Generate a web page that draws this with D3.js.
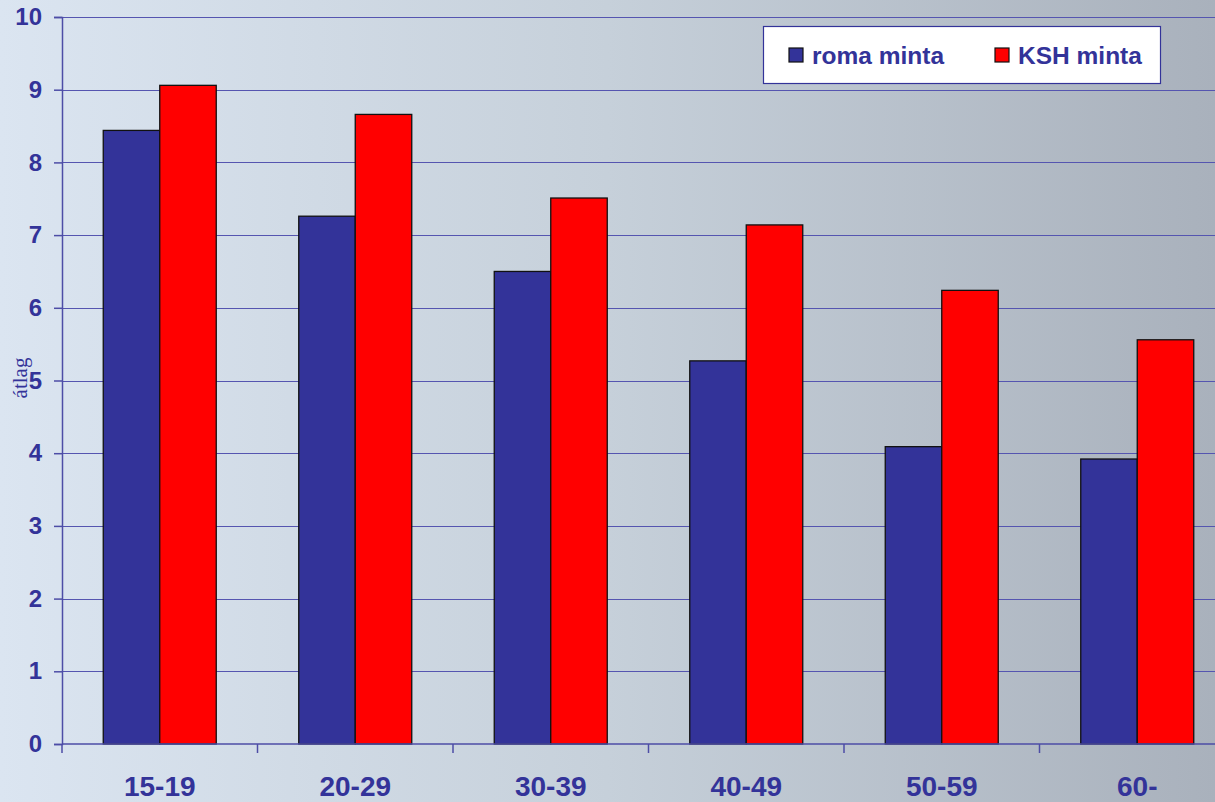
<!DOCTYPE html>
<html><head><meta charset="utf-8">
<script src="https://cdn.jsdelivr.net/npm/d3@7"></script>
<style>html,body{margin:0;padding:0;overflow:hidden;}svg{display:block;}</style>
</head><body>
<script>
const categories = ["15-19", "20-29", "30-39", "40-49", "50-59", "60-"];
const seriesNames = ["roma minta", "KSH minta"];
const romaValues = [8.44, 7.26, 6.50, 5.27, 4.09, 3.92];
const kshValues = [9.06, 8.66, 7.51, 7.14, 6.24, 5.56];
const yTicks = [0, 1, 2, 3, 4, 5, 6, 7, 8, 9, 10];
const colors = ["#333399", "#ff0000"];

const W = 1215, H = 802;
const svg = d3.select("body").append("svg").attr("width", W).attr("height", H);
const defs = svg.append("defs");
const grad = defs.append("linearGradient").attr("id", "bg").attr("x1", "0%").attr("x2", "100%").attr("y1", "0%").attr("y2", "0%");
grad.append("stop").attr("offset", "0%").attr("stop-color", "#dbe5f1");
grad.append("stop").attr("offset", "50%").attr("stop-color", "#c6d0da");
grad.append("stop").attr("offset", "100%").attr("stop-color", "#a9b1bc");
svg.append("rect").attr("width", W).attr("height", H).attr("fill", "url(#bg)");

const x0 = 62, y0 = 744, yTop = 17;
const step = 195.5;
const x = d3.scaleBand().domain(categories).range([x0, x0 + step * categories.length]).paddingInner(0).paddingOuter(0);
const y = d3.scaleLinear().domain([0, 10]).range([y0, yTop]);
const barW = 56.5;
const xs = d3.scaleBand().domain(seriesNames).range([x.bandwidth() / 2 - barW, x.bandwidth() / 2 + barW]);

const axisColor = "#4d4da6";
// gridlines
svg.append("g").selectAll("line").data(yTicks.filter(d => d > 0)).join("line")
  .attr("x1", x0).attr("x2", W).attr("y1", d => Math.round(y(d)) + 0.5).attr("y2", d => Math.round(y(d)) + 0.5)
  .attr("stroke", "#5555b0").attr("stroke-width", 1);

// bars
const data = categories.map((c, i) => ({cat: c, vals: [romaValues[i], kshValues[i]]}));
const g = svg.append("g").selectAll("g").data(data).join("g")
  .attr("transform", d => `translate(${x(d.cat)},0)`);
g.selectAll("rect").data(d => d.vals.map((v, j) => ({v, s: seriesNames[j], j}))).join("rect")
  .attr("x", d => xs(d.s)).attr("width", xs.bandwidth())
  .attr("y", d => y(d.v)).attr("height", d => y0 - y(d.v))
  .attr("fill", d => colors[d.j]).attr("stroke", "#111").attr("stroke-width", 1.3);

// y axis
const yAxis = d3.axisLeft(y).tickValues(yTicks).tickSize(8).tickPadding(12);
const ya = svg.append("g").attr("transform", `translate(${x0},0)`).call(yAxis);
ya.select(".domain").attr("stroke", axisColor).attr("stroke-width", 1.5);
ya.selectAll(".tick line").attr("stroke", axisColor).attr("stroke-width", 1.5);
ya.selectAll("text").attr("fill", "#333399").attr("font-family", "Liberation Sans, Arial, sans-serif")
  .attr("font-weight", "bold").attr("font-size", "24px");

// x axis
const xAxis = d3.axisBottom(x).tickSize(0).tickPadding(32);
const xa = svg.append("g").attr("transform", `translate(0,${y0})`).call(xAxis);
xa.select(".domain").remove();
xa.append("line").attr("x1", x0).attr("x2", W).attr("y1", 0).attr("y2", 0).attr("stroke", axisColor).attr("stroke-width", 1.5);
xa.selectAll(".tick text").attr("fill", "#333399").attr("font-family", "Liberation Sans, Arial, sans-serif")
  .attr("font-weight", "bold").attr("font-size", "28px");
xa.selectAll(".bnd").data(d3.range(categories.length + 1)).join("line")
  .attr("x1", i => x0 + i * x.step()).attr("x2", i => x0 + i * x.step())
  .attr("y1", 0).attr("y2", 9).attr("stroke", axisColor).attr("stroke-width", 1.5);

// y title
svg.append("text").attr("transform", "translate(27,378) rotate(-90)").attr("text-anchor", "middle")
  .attr("font-family", "Liberation Serif, Times New Roman, serif").attr("font-size", "21px")
  .attr("fill", "#333399").text("átlag");

// legend
const lg = svg.append("g");
lg.append("rect").attr("x", 763.5).attr("y", 26.5).attr("width", 397).attr("height", 57)
  .attr("fill", "#ffffff").attr("stroke", "#333399").attr("stroke-width", 1.2);
const lx = [789, 995];
seriesNames.forEach((s, i) => {
  lg.append("rect").attr("x", lx[i]).attr("y", 48).attr("width", 14).attr("height", 14)
    .attr("fill", colors[i]).attr("stroke", "#111").attr("stroke-width", 1.2);
  lg.append("text").attr("x", lx[i] + 23).attr("y", 64).attr("fill", "#333399")
    .attr("font-family", "Liberation Sans, Arial, sans-serif").attr("font-weight", "bold")
    .attr("font-size", "24.5px").text(s);
});
</script>
</body></html>
